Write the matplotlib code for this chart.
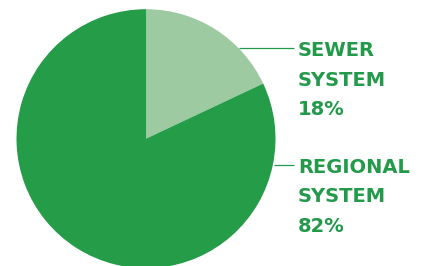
import matplotlib
matplotlib.use("Agg")
import matplotlib.pyplot as plt

# Data
labels = ["SEWER\nSYSTEM", "REGIONAL\nSYSTEM"]
shares = [18, 82]
colors = ["#9dcaa0", "#249c48"]
text_color = "#23994a"

W, H = 425, 266
fig = plt.figure(figsize=(W / 100, H / 100), dpi=100)
ax = fig.add_axes([0, 0, 1, 1])

cx, cy, r = 146, H - 138.7, 129.5
ax.pie(shares, colors=colors, startangle=90, counterclock=False,
       center=(cx, cy), radius=r, wedgeprops=dict(linewidth=0))
ax.set_xlim(0, W)
ax.set_ylim(0, H)
ax.set_aspect("equal")
ax.axis("off")

# label blocks: (line start x, line y, first baseline y)
blocks = [(239, H - 48, H - 56), (274, H - 165, H - 173)]
for (lab, val), (lx, ly, by) in zip(zip(labels, shares), blocks):
    ax.plot([lx, 294], [ly, ly], color=text_color, lw=0.9, solid_capstyle="butt")
    lines = lab.split("\n") + [f"{val}%"]
    for i, t in enumerate(lines):
        ax.text(298, by - i * 29.5, t, color=text_color, fontsize=14,
                fontweight="bold", family="DejaVu Sans", va="baseline", ha="left")

fig.savefig("out.png", dpi=100)
